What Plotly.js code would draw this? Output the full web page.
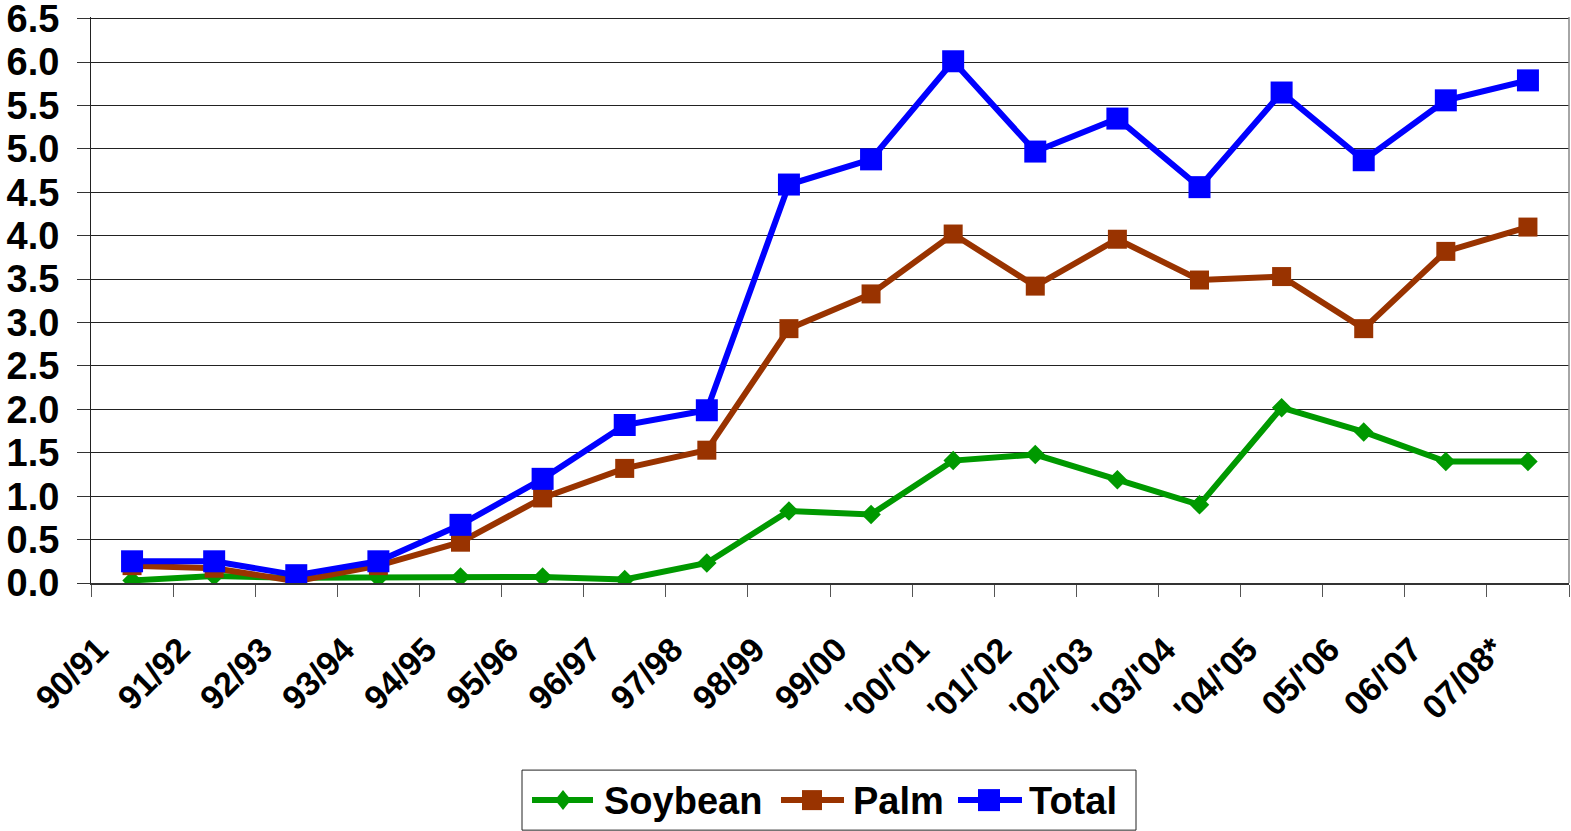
<!DOCTYPE html>
<html>
<head>
<meta charset="utf-8">
<script src="https://cdn.plot.ly/plotly-3.0.1.min.js"></script>
<style>html,body{margin:0;padding:0;background:#fff;}#chart{width:1571px;height:831px;}</style>
</head>
<body>
<div id="chart"></div>
<script>
const categories = ["90/91","91/92","92/93","93/94","94/95","95/96","96/97","97/98","98/99","99/00","'00/'01","'01/'02","'02/'03","'03/'04","'04/'05","05/'06","06/'07","07/08*"];
const soybean = [0.03,0.08,0.06,0.06,0.07,0.07,0.04,0.23,0.83,0.79,1.41,1.48,1.19,0.90,2.02,1.74,1.40,1.40];
const palm    = [0.20,0.17,0.02,0.20,0.47,0.98,1.32,1.53,2.93,3.33,4.02,3.42,3.96,3.49,3.53,2.93,3.82,4.10];
const total   = [0.25,0.25,0.09,0.25,0.67,1.20,1.82,1.99,4.59,4.88,6.01,4.97,5.35,4.56,5.65,4.87,5.56,5.79];
const yTicks = [0,0.5,1,1.5,2,2.5,3,3.5,4,4.5,5,5.5,6,6.5];
const seriesNames = ["Soybean","Palm","Total"];
const seriesColors = ["#009900","#993300","#0000FF"];

const font = "Liberation Sans, Arial, sans-serif";
const W = 1571, H = 831, ML = 91, MR = 2, MT = 17.3, MB = 248;
const PW = W - ML - MR, PH = H - MT - MB;
// pixel -> paper helpers for the hand-built legend
const px = x => (x - ML) / PW;
const py = y => (H - MB - y) / PH;

const traces = [
  {name:seriesNames[0], x:categories, y:soybean, type:"scatter", mode:"lines+markers",
   line:{color:seriesColors[0], width:6}, marker:{symbol:"diamond", size:15, color:seriesColors[0]}},
  {name:seriesNames[1], x:categories, y:palm, type:"scatter", mode:"lines+markers",
   line:{color:seriesColors[1], width:6}, marker:{symbol:"square", size:19, color:seriesColors[1]}},
  {name:seriesNames[2], x:categories, y:total, type:"scatter", mode:"lines+markers",
   line:{color:seriesColors[2], width:6}, marker:{symbol:"square", size:22, color:seriesColors[2]}}
];

const legY = 800;
const items = [
  {l0:532, l1:593, mx:563, tx:603, sym:"diamond", ms:10},
  {l0:781, l1:844, mx:812, tx:852, sym:"square", ms:10},
  {l0:958, l1:1022, mx:989, tx:1028, sym:"square", ms:11}
];
const shapes = [
  {type:"line", xref:"paper", yref:"paper", x0:1, x1:1, y0:0, y1:1, line:{color:"#888", width:1.5}},
  {type:"rect", xref:"paper", yref:"paper", x0:px(522), x1:px(1136), y0:py(770), y1:py(830),
   line:{color:"#222", width:1}, fillcolor:"#fff"}
];
const annotations = [];
items.forEach((it, i) => {
  const c = seriesColors[i];
  shapes.push({type:"line", xref:"paper", yref:"paper", x0:px(it.l0), x1:px(it.l1), y0:py(legY), y1:py(legY),
               line:{color:c, width:6}});
  if (it.sym === "diamond") {
    shapes.push({type:"path", xref:"paper", yref:"paper",
      path:`M ${px(it.mx-8)},${py(legY)} L ${px(it.mx)},${py(legY-10)} L ${px(it.mx+8)},${py(legY)} L ${px(it.mx)},${py(legY+10)} Z`,
      fillcolor:c, line:{color:c, width:0}});
  } else {
    shapes.push({type:"rect", xref:"paper", yref:"paper", x0:px(it.mx-it.ms), x1:px(it.mx+it.ms),
      y0:py(legY+it.ms), y1:py(legY-it.ms), fillcolor:c, line:{color:c, width:0}});
  }
  annotations.push({xref:"paper", yref:"paper", x:px(it.tx), y:py(legY+1), xanchor:"left", yanchor:"middle",
    showarrow:false, text:seriesNames[i], font:{family:font, size:38, color:"#000", weight:"bold"}, borderpad:0});
});

const layout = {
  width:W, height:H,
  margin:{l:ML, r:MR, t:MT, b:MB},
  paper_bgcolor:"#fff", plot_bgcolor:"#fff",
  font:{family:font, color:"#000"},
  showlegend:false,
  xaxis:{type:"category", categoryorder:"array", categoryarray:categories, range:[-0.5, 17.5],
         tickson:"boundaries", ticks:"outside", ticklen:12, tickcolor:"#555", tickwidth:1,
         showline:true, linecolor:"#333", linewidth:2, showgrid:false, zeroline:false,
         tickangle:-45, automargin:false, ticklabelstandoff:31, ticklabelshift:-34,
         tickfont:{family:font, size:34, color:"#000", weight:"bold"}},
  yaxis:{range:[0,6.52], tickvals:yTicks, tickformat:".1f", ticks:"outside", ticklen:13,
         tickcolor:"#333", showline:true, linecolor:"#222", linewidth:1, ticklabelstandoff:10,
         ticklabeloverflow:"allow",
         showgrid:true, gridcolor:"#222", gridwidth:1, zeroline:false, automargin:false,
         tickfont:{family:font, size:38, color:"#000", weight:"bold"}},
  shapes:shapes,
  annotations:annotations
};
Plotly.newPlot("chart", traces, layout, {displayModeBar:false, staticPlot:true});
</script>
</body>
</html>
